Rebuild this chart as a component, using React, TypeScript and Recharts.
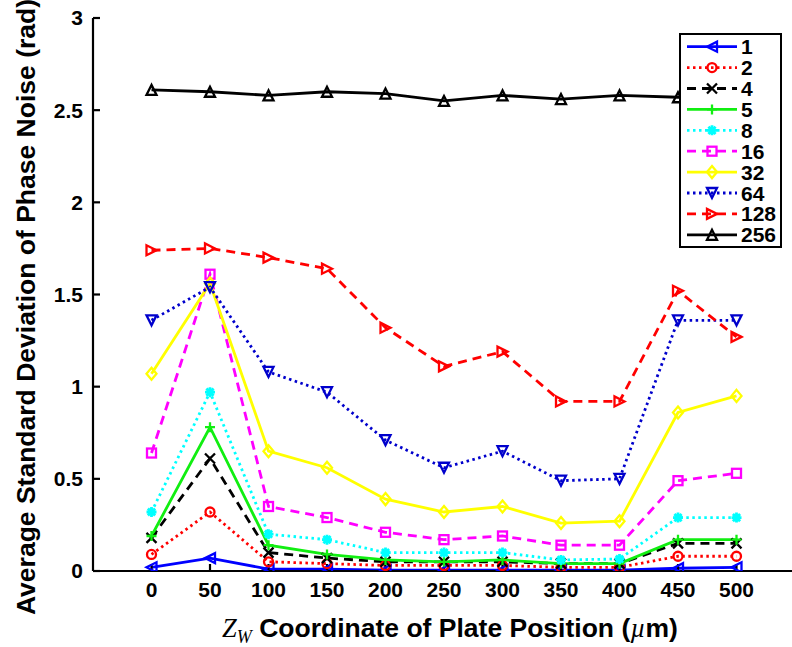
import React from 'react';
import { LineChart, Line, XAxis, YAxis, Legend } from 'recharts';

// Plate position along Z_W (µm)
const positions = [0, 50, 100, 150, 200, 250, 300, 350, 400, 450, 500];

// Average standard deviation of phase noise (rad) per setting
const s1 = [0.02, 0.07, 0.01, 0.01, 0.005, 0.005, 0.005, 0.005, 0.005, 0.015, 0.02];
const s2 = [0.09, 0.32, 0.05, 0.04, 0.03, 0.03, 0.03, 0.02, 0.02, 0.08, 0.08];
const s4 = [0.18, 0.61, 0.1, 0.07, 0.05, 0.05, 0.05, 0.04, 0.04, 0.15, 0.15];
const s5 = [0.19, 0.78, 0.14, 0.09, 0.06, 0.05, 0.06, 0.04, 0.04, 0.17, 0.17];
const s8 = [0.32, 0.97, 0.2, 0.17, 0.1, 0.1, 0.1, 0.06, 0.065, 0.29, 0.29];
const s16 = [0.64, 1.61, 0.35, 0.29, 0.21, 0.17, 0.19, 0.14, 0.14, 0.49, 0.53];
const s32 = [1.07, 1.56, 0.65, 0.56, 0.39, 0.32, 0.35, 0.26, 0.27, 0.86, 0.95];
const s64 = [1.36, 1.54, 1.08, 0.97, 0.71, 0.56, 0.65, 0.49, 0.5, 1.36, 1.36];
const s128 = [1.74, 1.75, 1.7, 1.64, 1.32, 1.11, 1.19, 0.92, 0.92, 1.52, 1.27];
const s256 = [2.61, 2.6, 2.58, 2.6, 2.59, 2.55, 2.58, 2.56, 2.58, 2.57, 2.57];

const xTicks = [0, 50, 100, 150, 200, 250, 300, 350, 400, 450, 500];
const yTicks = [0, 0.5, 1, 1.5, 2, 2.5, 3];

type Shape = 'tl' | 'tr' | 'tu' | 'td' | 'o' | 'x' | '+' | '*' | 's' | 'd';

const DOTTED = '2.5 3.5';
const DASHED = '9 6';

const seriesDefs: { key: string; label: string; values: number[]; color: string; dash?: string; shape: Shape }[] = [
  { key: 'k1', label: '1', values: s1, color: '#0000ff', shape: 'tl' },
  { key: 'k2', label: '2', values: s2, color: '#ff0000', dash: DOTTED, shape: 'o' },
  { key: 'k4', label: '4', values: s4, color: '#000000', dash: DASHED, shape: 'x' },
  { key: 'k5', label: '5', values: s5, color: '#11ee11', shape: '+' },
  { key: 'k8', label: '8', values: s8, color: '#00ffff', dash: DOTTED, shape: '*' },
  { key: 'k16', label: '16', values: s16, color: '#ff00ff', dash: DASHED, shape: 's' },
  { key: 'k32', label: '32', values: s32, color: '#ffff00', shape: 'd' },
  { key: 'k64', label: '64', values: s64, color: '#0000cc', dash: DOTTED, shape: 'td' },
  { key: 'k128', label: '128', values: s128, color: '#ff0000', dash: DASHED, shape: 'tr' },
  { key: 'k256', label: '256', values: s256, color: '#000000', shape: 'tu' },
];

const data = positions.map((x, i) => {
  const row: Record<string, number> = { x };
  seriesDefs.forEach((s) => {
    row[s.key] = s.values[i];
  });
  return row;
});

const SANS = '"Liberation Sans", Arial, sans-serif';
const SERIF = '"Liberation Serif", "Times New Roman", serif';

function Marker({ shape, cx, cy, color }: { shape: Shape; cx: number; cy: number; color: string }) {
  const r = 5;
  const common = { stroke: color, strokeWidth: 2.3, fill: 'none' };
  switch (shape) {
    case 'tl':
      return <polygon points={`${cx - r},${cy} ${cx + r},${cy - r} ${cx + r},${cy + r}`} {...common} />;
    case 'tr':
      return <polygon points={`${cx + r},${cy} ${cx - r},${cy - r} ${cx - r},${cy + r}`} {...common} />;
    case 'tu':
      return <polygon points={`${cx},${cy - r} ${cx - r},${cy + r} ${cx + r},${cy + r}`} {...common} />;
    case 'td':
      return <polygon points={`${cx},${cy + r} ${cx - r},${cy - r} ${cx + r},${cy - r}`} {...common} />;
    case 'o':
      return <circle cx={cx} cy={cy} r={r - 0.5} {...common} />;
    case 's':
      return <rect x={cx - r + 0.5} y={cy - r + 0.5} width={2 * r - 1} height={2 * r - 1} {...common} />;
    case 'd':
      return <polygon points={`${cx},${cy - r - 1} ${cx + r},${cy} ${cx},${cy + r + 1} ${cx - r},${cy}`} {...common} />;
    case 'x':
      return (
        <path d={`M${cx - r},${cy - r}L${cx + r},${cy + r}M${cx - r},${cy + r}L${cx + r},${cy - r}`} {...common} />
      );
    case '+':
      return <path d={`M${cx - r},${cy}L${cx + r},${cy}M${cx},${cy - r}L${cx},${cy + r}`} {...common} />;
    case '*':
    default: {
      const q = r * 0.72;
      return (
        <path
          d={`M${cx - r},${cy}L${cx + r},${cy}M${cx},${cy - r}L${cx},${cy + r}M${cx - q},${cy - q}L${cx + q},${cy + q}M${cx - q},${cy + q}L${cx + q},${cy - q}`}
          {...common}
          strokeWidth={2.8}
        />
      );
    }
  }
}

function makeDot(shape: Shape, color: string, name: string) {
  return (props: any) => {
    const { cx, cy, index } = props;
    if (cx == null || cy == null) return <g key={`${name}-${index}`} />;
    return (
      <g key={`${name}-${index}`}>
        <Marker shape={shape} cx={cx} cy={cy} color={color} />
      </g>
    );
  };
}

function LegendBox() {
  const rowH = 20.9;
  return (
    <div style={{ width: 99, height: 211, border: '2px solid #000', background: '#fff' }}>
      <svg width={99} height={211} style={{ display: 'block' }}>
        {seriesDefs.map((s, i) => {
          const y = 11.7 + i * rowH;
          return (
            <g key={s.key}>
              <line x1={6} x2={56} y1={y} y2={y} stroke={s.color} strokeWidth={2.8} strokeDasharray={s.dash} />
              <Marker shape={s.shape} cx={31} cy={y} color={s.color} />
              <text x={60} y={y} dy="0.36em" fontFamily={SANS} fontWeight="bold" fontSize={21} fill="#000">
                {s.label}
              </text>
            </g>
          );
        })}
      </svg>
    </div>
  );
}

const renderXLabel = () => (
  <text x={450} y={637} textAnchor="middle" fontFamily={SANS} fontWeight="bold" fontSize={26.5} fill="#000" style={{ whiteSpace: 'pre' }}>
    <tspan fontFamily={SERIF} fontStyle="italic" fontWeight="normal">Z</tspan>
    <tspan fontFamily={SERIF} fontStyle="italic" fontWeight="normal" fontSize={18} dy={6}>W</tspan>
    <tspan dy={-6}>{' Coordinate of Plate Position ('}</tspan>
    <tspan fontFamily={SERIF} fontStyle="italic" fontWeight="normal">µ</tspan>
    <tspan>m)</tspan>
  </text>
);

const renderYLabel = () => (
  <text
    x={35}
    y={307}
    transform="rotate(-90 35 307)"
    textAnchor="middle"
    fontFamily={SANS}
    fontWeight="bold"
    fontSize={26.5}
    fill="#000"
  >
    Average Standard Deviation of Phase Noise (rad)
  </text>
);

const tickStyle = { fill: '#000', fontSize: 21, fontWeight: 'bold', fontFamily: SANS } as any;

export default function App() {
  return (
    <div style={{ position: 'absolute', left: 0, top: 0, width: 792, height: 647, overflow: 'hidden', background: '#fff' }}>
      <LineChart width={800} height={647} data={data} margin={{ top: 18, right: 5, bottom: 0, left: 0 }}>
        <XAxis
          xAxisId="b"
          dataKey="x"
          type="number"
          domain={[-50, 550]}
          ticks={xTicks}
          allowDataOverflow
          height={76}
          stroke="#000"
          strokeWidth={2.2}
          tickSize={-7}
          tickMargin={18}
          tick={tickStyle}
          label={{ content: renderXLabel }}
        />
        <XAxis
          xAxisId="t"
          dataKey="x"
          type="number"
          orientation="top"
          domain={[-50, 550]}
          ticks={xTicks}
          allowDataOverflow
          height={0}
          stroke="#000"
          strokeWidth={2.2}
          tickSize={-7}
          tick={false}
        />
        <YAxis
          yAxisId="l"
          type="number"
          domain={[0, 3]}
          ticks={yTicks}
          allowDataOverflow
          width={93}
          stroke="#000"
          strokeWidth={2.2}
          tickSize={-7}
          tickMargin={17}
          tick={tickStyle}
          label={{ content: renderYLabel }}
        />
        <YAxis
          yAxisId="r"
          type="number"
          orientation="right"
          domain={[0, 3]}
          ticks={yTicks}
          allowDataOverflow
          width={0}
          stroke="#000"
          strokeWidth={2.2}
          tickSize={-7}
          tick={false}
        />
        {seriesDefs.map((s) => (
          <Line
            key={s.key}
            xAxisId="b"
            yAxisId="l"
            type="linear"
            dataKey={s.key}
            name={s.label}
            stroke={s.color}
            strokeWidth={2.8}
            strokeDasharray={s.dash}
            dot={makeDot(s.shape, s.color, s.key)}
            activeDot={false}
            isAnimationActive={false}
          />
        ))}
        <Legend
          layout="vertical"
          align="center"
          verticalAlign="middle"
          content={() => <LegendBox />}
          wrapperStyle={{ left: 679, top: 33, right: 'auto', bottom: 'auto', width: 103, height: 215 }}
        />
      </LineChart>
    </div>
  );
}
